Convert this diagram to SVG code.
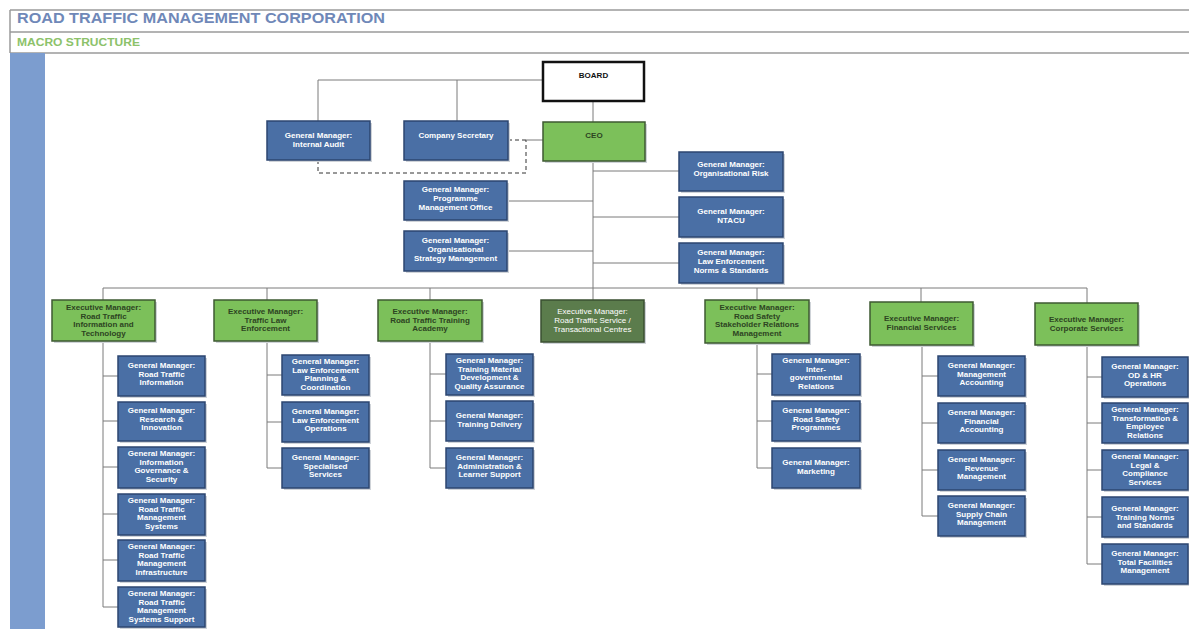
<svg xmlns="http://www.w3.org/2000/svg" width="1189" height="629" viewBox="0 0 1189 629">
<style>
.hdr{stroke:#9a9a9a;stroke-width:1.5;fill:none}
.gm{fill:#4a6fa5;stroke:#2c4670;stroke-width:1.5}
.ex{fill:#7cc05a;stroke:#3e5a32;stroke-width:1.5}
.exd{fill:#5b7c4c;stroke:#3a4f30;stroke-width:1.5}
.sh{fill:#cfd3d8}
.tw{font-family:"Liberation Sans",Arial,sans-serif;font-weight:bold;font-size:8px;fill:#ffffff;text-anchor:middle}
.tg{font-family:"Liberation Sans",Arial,sans-serif;font-weight:bold;font-size:8px;fill:#2d4422;text-anchor:middle}
.c{stroke:#7a7a7a;stroke-width:1;fill:none}
.d{stroke:#333;stroke-width:1;fill:none;stroke-dasharray:4 3}
</style>
<rect x="0" y="0" width="1189" height="629" fill="#ffffff"/>
<g id="header">
<path class="hdr" d="M10,10 H1189 M10,32 H1189 M10,53 H1189 M10,10 V53"/>
<text x="17" y="23" font-family="Liberation Sans,Arial,sans-serif" font-weight="bold" font-size="14.5" fill="#6f88b8" textLength="368" lengthAdjust="spacingAndGlyphs">ROAD TRAFFIC MANAGEMENT CORPORATION</text>
<text x="17" y="46" font-family="Liberation Sans,Arial,sans-serif" font-weight="bold" font-size="10" fill="#8cc26a" textLength="123" lengthAdjust="spacingAndGlyphs">MACRO STRUCTURE</text>
<rect x="10" y="53" width="35" height="576" fill="#7c9dcf"/>
</g>
<g id="connectors">
<path class="c" d="M543,80 H318 V121 M457,80 V121"/>
<path class="c" d="M593,101 V122 M593,161 V288"/>
<path class="c" d="M593,171 H679 M593,217 H679 M593,263 H679 M507,201 H593 M507,251 H593"/>
<path class="c" d="M103,288 H1087 M103,288 V300 M267,288 V300 M430,288 V300 M593,288 V300 M757,288 V300 M921,288 V302 M1087,288 V303"/>
<path class="c" d="M103,341 V607 M103,376 H118 M103,421 H118 M103,467 H118 M103,514 H118 M103,560 H118 M103,607 H118"/>
<path class="c" d="M267,341 V468 M267,375 H282 M267,422 H282 M267,468 H282"/>
<path class="c" d="M430,341 V468 M430,374 H446 M430,421 H446 M430,468 H446"/>
<path class="c" d="M757,343 V468 M757,374 H772 M757,421 H772 M757,468 H772"/>
<path class="c" d="M922,345 V516 M922,376 H938 M922,423 H938 M922,470 H938 M922,516 H938"/>
<path class="c" d="M1087,345 V564 M1087,377 H1102 M1087,423 H1102 M1087,470 H1102 M1087,517 H1102 M1087,564 H1102"/>
<path class="d" d="M318,160 V173 H526 V140 M508,140 H526"/>
<path class="c" d="M526,140 H543" stroke="#333"/>
</g>
<g id="board"><rect x="543" y="62" width="101" height="39" fill="#fff" stroke="#111" stroke-width="2.5"/><text class="tg" x="593.5" y="78" style="fill:#111">BOARD</text></g>
<g id="ceo"><rect class="sh" x="545" y="124" width="102" height="39"/><rect class="ex" x="543" y="122" width="102" height="39"/><text class="tg" x="594" y="138">CEO</text></g>
<g id="gm-internal-audit"><rect class="sh" x="269" y="123" width="103" height="39"/><rect class="gm" x="267" y="121" width="103" height="39"/><text class="tw" x="318.5" y="138">General Manager:</text><text class="tw" x="318.5" y="147">Internal Audit</text></g>
<g id="company-secretary"><rect class="sh" x="406" y="123" width="104" height="39"/><rect class="gm" x="404" y="121" width="104" height="39"/><text class="tw" x="456" y="138">Company Secretary</text></g>
<g id="gm-pmo"><rect class="sh" x="406" y="183" width="103" height="39"/><rect class="gm" x="404" y="181" width="103" height="39"/><text class="tw" x="455.5" y="192">General Manager:</text><text class="tw" x="455.5" y="201">Programme</text><text class="tw" x="455.5" y="210">Management Office</text></g>
<g id="gm-osm"><rect class="sh" x="406" y="233" width="103" height="40"/><rect class="gm" x="404" y="231" width="103" height="40"/><text class="tw" x="455.5" y="243">General Manager:</text><text class="tw" x="455.5" y="252">Organisational</text><text class="tw" x="455.5" y="261">Strategy Management</text></g>
<g id="gm-risk"><rect class="sh" x="681" y="154" width="104" height="39"/><rect class="gm" x="679" y="152" width="104" height="39"/><text class="tw" x="731" y="167">General Manager:</text><text class="tw" x="731" y="176">Organisational Risk</text></g>
<g id="gm-ntacu"><rect class="sh" x="681" y="199" width="104" height="40"/><rect class="gm" x="679" y="197" width="104" height="40"/><text class="tw" x="731" y="214">General Manager:</text><text class="tw" x="731" y="223">NTACU</text></g>
<g id="gm-le-norms"><rect class="sh" x="681" y="245" width="104" height="40"/><rect class="gm" x="679" y="243" width="104" height="40"/><text class="tw" x="731" y="255">General Manager:</text><text class="tw" x="731" y="264">Law Enforcement</text><text class="tw" x="731" y="273">Norms &amp; Standards</text></g>
<g id="em-rtit"><rect class="sh" x="54" y="302" width="103" height="41"/><rect class="ex" x="52" y="300" width="103" height="41"/><text class="tg" x="103.5" y="310">Executive Manager:</text><text class="tg" x="103.5" y="318.5">Road Traffic</text><text class="tg" x="103.5" y="327">Information and</text><text class="tg" x="103.5" y="335.5">Technology</text></g>
<g id="em-tle"><rect class="sh" x="216" y="302" width="103" height="41"/><rect class="ex" x="214" y="300" width="103" height="41"/><text class="tg" x="265.5" y="314">Executive Manager:</text><text class="tg" x="265.5" y="322.5">Traffic Law</text><text class="tg" x="265.5" y="331">Enforcement</text></g>
<g id="em-rtta"><rect class="sh" x="380" y="302" width="104" height="41"/><rect class="ex" x="378" y="300" width="104" height="41"/><text class="tg" x="430" y="314">Executive Manager:</text><text class="tg" x="430" y="322.5">Road Traffic Training</text><text class="tg" x="430" y="331">Academy</text></g>
<g id="em-rts"><rect class="sh" x="543" y="302" width="103" height="42"/><rect class="exd" x="541" y="300" width="103" height="42"/><text class="tw" x="592.5" y="314" style="font-weight:normal">Executive Manager:</text><text class="tw" x="592.5" y="323" style="font-weight:normal">Road Traffic Service /</text><text class="tw" x="592.5" y="332" style="font-weight:normal">Transactional Centres</text></g>
<g id="em-rssrm"><rect class="sh" x="707" y="302" width="104" height="43"/><rect class="ex" x="705" y="300" width="104" height="43"/><text class="tg" x="757" y="310">Executive Manager:</text><text class="tg" x="757" y="318.5">Road Safety</text><text class="tg" x="757" y="327">Stakeholder Relations</text><text class="tg" x="757" y="335.5">Management</text></g>
<g id="em-fs"><rect class="sh" x="872" y="304" width="103" height="43"/><rect class="ex" x="870" y="302" width="103" height="43"/><text class="tg" x="921.5" y="321">Executive Manager:</text><text class="tg" x="921.5" y="329.5">Financial Services</text></g>
<g id="em-cs"><rect class="sh" x="1037" y="305" width="103" height="42"/><rect class="ex" x="1035" y="303" width="103" height="42"/><text class="tg" x="1086.5" y="322">Executive Manager:</text><text class="tg" x="1086.5" y="330.5">Corporate Services</text></g>
<g id="gm-rti"><rect class="sh" x="120" y="358" width="87" height="40"/><rect class="gm" x="118" y="356" width="87" height="40"/><text class="tw" x="161.5" y="368">General Manager:</text><text class="tw" x="161.5" y="376.5">Road Traffic</text><text class="tw" x="161.5" y="385">Information</text></g>
<g id="gm-ri"><rect class="sh" x="120" y="404" width="87" height="39"/><rect class="gm" x="118" y="402" width="87" height="39"/><text class="tw" x="161.5" y="413">General Manager:</text><text class="tw" x="161.5" y="421.5">Research &amp;</text><text class="tw" x="161.5" y="430">Innovation</text></g>
<g id="gm-igs"><rect class="sh" x="120" y="449" width="87" height="41"/><rect class="gm" x="118" y="447" width="87" height="41"/><text class="tw" x="161.5" y="456">General Manager:</text><text class="tw" x="161.5" y="464.5">Information</text><text class="tw" x="161.5" y="473">Governance &amp;</text><text class="tw" x="161.5" y="481.5">Security</text></g>
<g id="gm-rtms"><rect class="sh" x="120" y="496" width="87" height="41"/><rect class="gm" x="118" y="494" width="87" height="41"/><text class="tw" x="161.5" y="503">General Manager:</text><text class="tw" x="161.5" y="511.5">Road Traffic</text><text class="tw" x="161.5" y="520">Management</text><text class="tw" x="161.5" y="528.5">Systems</text></g>
<g id="gm-rtmi"><rect class="sh" x="120" y="542" width="87" height="41"/><rect class="gm" x="118" y="540" width="87" height="41"/><text class="tw" x="161.5" y="549">General Manager:</text><text class="tw" x="161.5" y="557.5">Road Traffic</text><text class="tw" x="161.5" y="566">Management</text><text class="tw" x="161.5" y="574.5">Infrastructure</text></g>
<g id="gm-rtmss"><rect class="sh" x="120" y="589" width="87" height="40"/><rect class="gm" x="118" y="587" width="87" height="40"/><text class="tw" x="161.5" y="596">General Manager:</text><text class="tw" x="161.5" y="604.5">Road Traffic</text><text class="tw" x="161.5" y="613">Management</text><text class="tw" x="161.5" y="621.5">Systems Support</text></g>
<g id="gm-lepc"><rect class="sh" x="284" y="357" width="87" height="40"/><rect class="gm" x="282" y="355" width="87" height="40"/><text class="tw" x="325.5" y="364">General Manager:</text><text class="tw" x="325.5" y="372.5">Law Enforcement</text><text class="tw" x="325.5" y="381">Planning &amp;</text><text class="tw" x="325.5" y="389.5">Coordination</text></g>
<g id="gm-leo"><rect class="sh" x="284" y="404" width="87" height="40"/><rect class="gm" x="282" y="402" width="87" height="40"/><text class="tw" x="325.5" y="414">General Manager:</text><text class="tw" x="325.5" y="422.5">Law Enforcement</text><text class="tw" x="325.5" y="431">Operations</text></g>
<g id="gm-ss"><rect class="sh" x="284" y="450" width="87" height="40"/><rect class="gm" x="282" y="448" width="87" height="40"/><text class="tw" x="325.5" y="460">General Manager:</text><text class="tw" x="325.5" y="468.5">Specialised</text><text class="tw" x="325.5" y="477">Services</text></g>
<g id="gm-tmd"><rect class="sh" x="448" y="356" width="87" height="41"/><rect class="gm" x="446" y="354" width="87" height="41"/><text class="tw" x="489.5" y="363">General Manager:</text><text class="tw" x="489.5" y="371.5">Training Material</text><text class="tw" x="489.5" y="380">Development &amp;</text><text class="tw" x="489.5" y="388.5">Quality Assurance</text></g>
<g id="gm-td"><rect class="sh" x="448" y="403" width="87" height="40"/><rect class="gm" x="446" y="401" width="87" height="40"/><text class="tw" x="489.5" y="418">General Manager:</text><text class="tw" x="489.5" y="427">Training Delivery</text></g>
<g id="gm-als"><rect class="sh" x="448" y="450" width="87" height="40"/><rect class="gm" x="446" y="448" width="87" height="40"/><text class="tw" x="489.5" y="460">General Manager:</text><text class="tw" x="489.5" y="468.5">Administration &amp;</text><text class="tw" x="489.5" y="477">Learner Support</text></g>
<g id="gm-igr"><rect class="sh" x="774" y="356" width="88" height="41"/><rect class="gm" x="772" y="354" width="88" height="41"/><text class="tw" x="816" y="363">General Manager:</text><text class="tw" x="816" y="371.5">Inter-</text><text class="tw" x="816" y="380">governmental</text><text class="tw" x="816" y="388.5">Relations</text></g>
<g id="gm-rsp"><rect class="sh" x="774" y="403" width="88" height="40"/><rect class="gm" x="772" y="401" width="88" height="40"/><text class="tw" x="816" y="413">General Manager:</text><text class="tw" x="816" y="421.5">Road Safety</text><text class="tw" x="816" y="430">Programmes</text></g>
<g id="gm-mkt"><rect class="sh" x="774" y="450" width="88" height="40"/><rect class="gm" x="772" y="448" width="88" height="40"/><text class="tw" x="816" y="465">General Manager:</text><text class="tw" x="816" y="474">Marketing</text></g>
<g id="gm-ma"><rect class="sh" x="940" y="358" width="87" height="40"/><rect class="gm" x="938" y="356" width="87" height="40"/><text class="tw" x="981.5" y="368">General Manager:</text><text class="tw" x="981.5" y="376.5">Management</text><text class="tw" x="981.5" y="385">Accounting</text></g>
<g id="gm-fa"><rect class="sh" x="940" y="405" width="87" height="40"/><rect class="gm" x="938" y="403" width="87" height="40"/><text class="tw" x="981.5" y="415">General Manager:</text><text class="tw" x="981.5" y="423.5">Financial</text><text class="tw" x="981.5" y="432">Accounting</text></g>
<g id="gm-rm"><rect class="sh" x="940" y="452" width="87" height="40"/><rect class="gm" x="938" y="450" width="87" height="40"/><text class="tw" x="981.5" y="462">General Manager:</text><text class="tw" x="981.5" y="470.5">Revenue</text><text class="tw" x="981.5" y="479">Management</text></g>
<g id="gm-scm"><rect class="sh" x="940" y="498" width="87" height="40"/><rect class="gm" x="938" y="496" width="87" height="40"/><text class="tw" x="981.5" y="508">General Manager:</text><text class="tw" x="981.5" y="516.5">Supply Chain</text><text class="tw" x="981.5" y="525">Management</text></g>
<g id="gm-odhr"><rect class="sh" x="1104" y="359" width="85" height="40"/><rect class="gm" x="1102" y="357" width="86" height="40"/><text class="tw" x="1145" y="369">General Manager:</text><text class="tw" x="1145" y="377.5">OD &amp; HR</text><text class="tw" x="1145" y="386">Operations</text></g>
<g id="gm-ter"><rect class="sh" x="1104" y="405" width="85" height="40"/><rect class="gm" x="1102" y="403" width="86" height="40"/><text class="tw" x="1145" y="412">General Manager:</text><text class="tw" x="1145" y="420.5">Transformation &amp;</text><text class="tw" x="1145" y="429">Employee</text><text class="tw" x="1145" y="437.5">Relations</text></g>
<g id="gm-lcs"><rect class="sh" x="1104" y="452" width="85" height="40"/><rect class="gm" x="1102" y="450" width="86" height="40"/><text class="tw" x="1145" y="459">General Manager:</text><text class="tw" x="1145" y="467.5">Legal &amp;</text><text class="tw" x="1145" y="476">Compliance</text><text class="tw" x="1145" y="484.5">Services</text></g>
<g id="gm-tns"><rect class="sh" x="1104" y="499" width="85" height="40"/><rect class="gm" x="1102" y="497" width="86" height="40"/><text class="tw" x="1145" y="511">General Manager:</text><text class="tw" x="1145" y="519.5">Training Norms</text><text class="tw" x="1145" y="528">and Standards</text></g>
<g id="gm-tfm"><rect class="sh" x="1104" y="546" width="85" height="40"/><rect class="gm" x="1102" y="544" width="86" height="40"/><text class="tw" x="1145" y="556">General Manager:</text><text class="tw" x="1145" y="564.5">Total Facilities</text><text class="tw" x="1145" y="573">Management</text></g>
</svg>
